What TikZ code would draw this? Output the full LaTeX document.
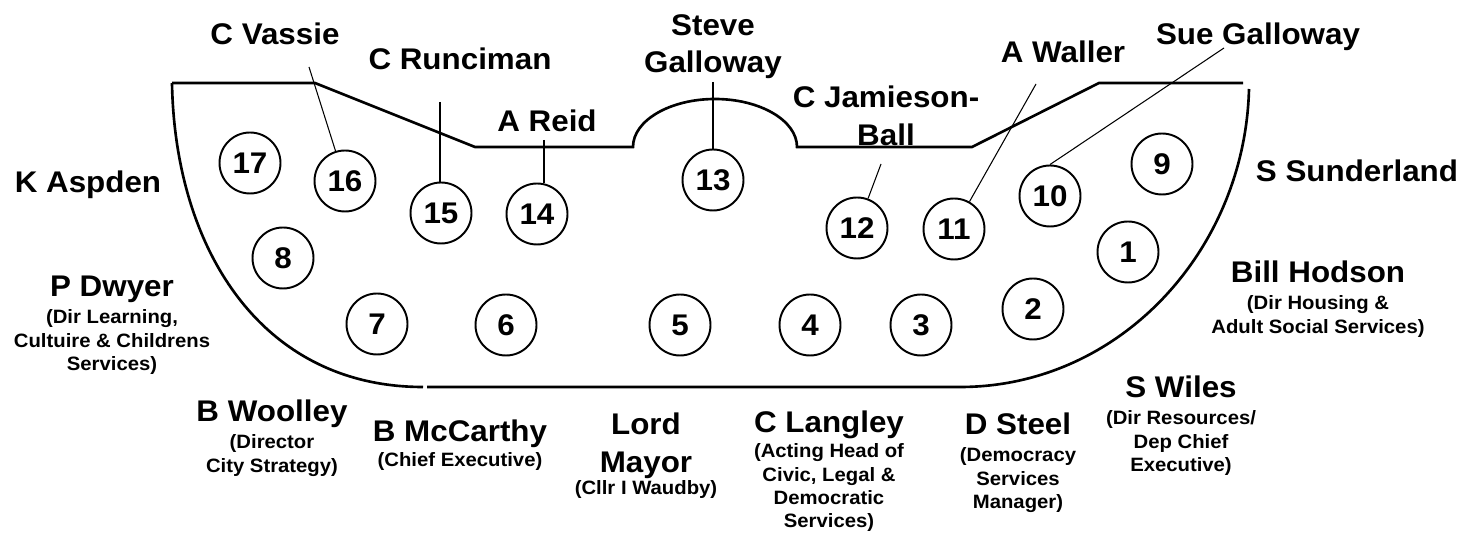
\documentclass[tikz,border=0pt]{standalone}
\usepackage{fontspec}
\setmainfont{Liberation Sans}[FakeStretch=1.05]
\usetikzlibrary{positioning,calc}
\tikzstyle{outline}=[line width=1.5pt]
\tikzstyle{seat}=[circle, draw, line width=1.1pt, minimum size=1.22cm, inner sep=0pt, font=\fontsize{17}{18}\selectfont\bfseries]
\tikzstyle{pointer}=[line width=0.6pt]
\tikzstyle{person}=[inner sep=0pt, font=\fontsize{17}{21.5}\selectfont\bfseries]
\tikzstyle{role}=[inner sep=0pt, align=center, font=\fontsize{11}{13.3}\selectfont\bfseries]
\begin{document}
\begin{tikzpicture}[x=0.02cm,y=-0.02cm]
	\useasboundingbox (0,0) rectangle (1465,536);
	% table outline
	\draw[outline] (172,83) -- (315,83) -- (475,147) -- (633,147) .. controls (633,120.5) and (670,99) .. (715,99) .. controls (760,99) and (797,120.5) .. (797,147) -- (972,147) -- (1099,83) -- (1243,83);
	\draw[outline] (172,83) .. controls (175,250) and (262,387) .. (423,387);
	\draw[outline] (427,387) -- (960,387) .. controls (1120,387) and (1245,250) .. (1249,89);
	% seats
	\node[seat] (s1) at (1128,252) {1};
	\node[seat] (s2) at (1033,309) {2};
	\node[seat] (s3) at (921,325) {3};
	\node[seat] (s4) at (810,325) {4};
	\node[seat] (s5) at (680,325) {5};
	\node[seat] (s6) at (506,325) {6};
	\node[seat] (s7) at (377,324) {7};
	\node[seat] (s8) at (283,258) {8};
	\node[seat] (s9) at (1162,164) {9};
	\node[seat] (s10) at (1050,196) {10};
	\node[seat] (s11) at (954,229) {11};
	\node[seat] (s12) at (857,228) {12};
	\node[seat] (s13) at (713,180) {13};
	\node[seat] (s14) at (537,214) {14};
	\node[seat] (s15) at (441,213) {15};
	\node[seat] (s16) at (345,181) {16};
	\node[seat] (s17) at (250,163) {17};
	% names round the top
	\node[person, anchor=base] (vassie) at (275,45) {C Vassie};
	\node[person, anchor=base] (runciman) at (460,70) {C Runciman};
	\node[person, align=center, anchor=north] (steve) at (713,14) {Steve\\Galloway};
	\node[person, anchor=base] (reid) at (547,132) {A Reid};
	\node[person, align=center, anchor=north] (jamieson) at (886,86) {C Jamieson-\\Ball};
	\node[person, anchor=base] (waller) at (1063,63) {A Waller};
	\node[person, anchor=base] (suegall) at (1258,45) {Sue Galloway};
	\node[person, anchor=base] (sunderland) at (1357,182) {S Sunderland};
	\node[person, anchor=base] (aspden) at (88,193) {K Aspden};
	% pointers
	\coordinate (t16) at (309,67);
	\coordinate (t15) at (440,102);
	\coordinate (t14) at (544,140);
	\coordinate (t13) at (713,82);
	\coordinate (t12) at (881,164);
	\coordinate (t11) at (1036,84);
	\coordinate (t10) at (1224,48);
	\draw[pointer] (t16) -- (s16);
	\draw[pointer] (t15) -- (t15 |- s15.north);
	\draw[pointer] (t14) -- (t14 |- s14.north);
	\draw[pointer] (t13) -- (t13 |- s13.north);
	\draw[pointer] (t12) -- (s12);
	\draw[pointer] (t11) -- (s11);
	\draw[pointer] (t10) -- (s10.north);
	% officers
	\node[person, anchor=base] (dwyer) at (112,297) {P Dwyer};
	\node[role, below=7pt of dwyer.base] (dwyerrole) {(Dir Learning,\\Cultuire \& Childrens\\Services)};
	\node[person, anchor=base] (hodson) at (1318,283) {Bill Hodson};
	\node[role, below=7pt of hodson.base] (hodsonrole) {(Dir Housing \&\\Adult Social Services)};
	\node[person, anchor=base] (wiles) at (1181,398) {S Wiles};
	\node[role, below=7pt of wiles.base] (wilesrole) {(Dir Resources/\\Dep Chief\\Executive)};
	\node[person, anchor=base] (steel) at (1018,435) {D Steel};
	\node[role, below=7pt of steel.base] (steelrole) {(Democracy\\Services\\Manager)};
	\node[person, anchor=base] (langley) at (829,433) {C Langley};
	\node[role, below=6pt of langley.base] (langleyrole) {(Acting Head of\\Civic, Legal \&\\Democratic\\Services)};
	\node[person, align=center, anchor=north] (mayor) at (646,413) {Lord\\Mayor};
	\node[role, anchor=base] (mayorrole) at (646,495) {(Cllr I Waudby)};
	\node[person, anchor=base] (mccarthy) at (460,442) {B McCarthy};
	\node[role, below=6pt of mccarthy.base] (mccarthyrole) {(Chief Executive)};
	\node[person, anchor=base] (woolley) at (272,422) {B Woolley};
	\node[role, below=7pt of woolley.base] (woolleyrole) {(Director\\City Strategy)};
\end{tikzpicture}
\end{document}
